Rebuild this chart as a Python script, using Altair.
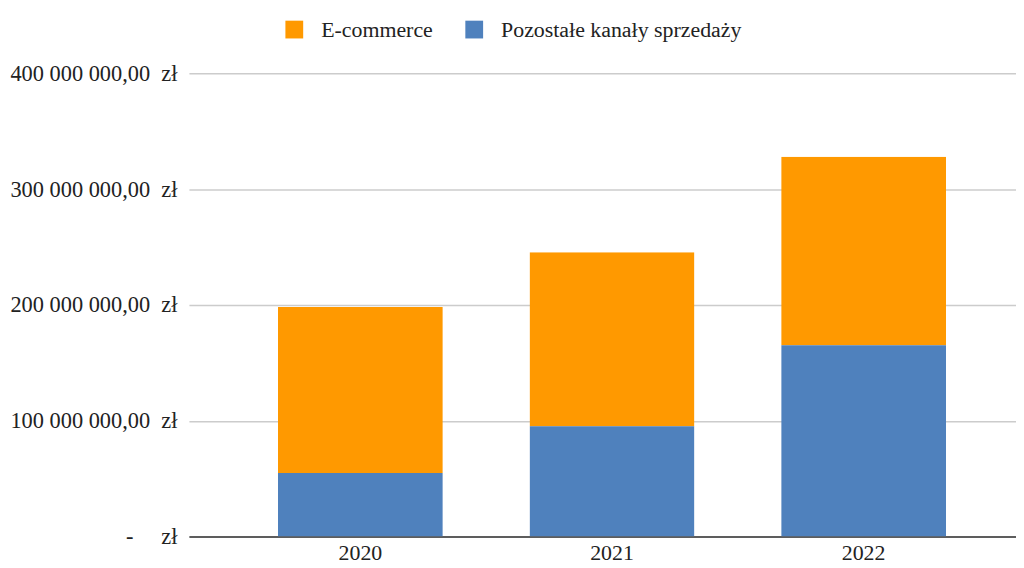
import altair as alt
import pandas as pd

years = ["2020", "2021", "2022"]
ecommerce = [143_400_000, 150_200_000, 162_800_000]
pozostale = [54_900_000, 95_300_000, 165_100_000]
series = ["E-commerce", "Pozostałe kanały sprzedaży"]
colors = ["#ff9900", "#4f81bd"]

rows = []
for i, y in enumerate(years):
    rows.append({"year": y, "series": series[0], "value": ecommerce[i], "ord": 1})
    rows.append({"year": y, "series": series[1], "value": pozostale[i], "ord": 0})
df = pd.DataFrame(rows)

NB = "\u00a0"
label_expr = (
    f"datum.value == 0 ? '-{NB*5}zł' : "
    f"format(datum.value / 1000000, '.0f') + ' 000 000,00{NB}{NB}zł'"
)

chart = alt.Chart(df).mark_bar(
    cornerRadiusTopLeft={"expr": "datum.series == 'E-commerce' ? 3 : 0"},
    cornerRadiusTopRight={"expr": "datum.series == 'E-commerce' ? 3 : 0"},
).encode(
    x=alt.X("year:N", title=None,
            scale=alt.Scale(paddingInner=0.345, paddingOuter=0.316, align=0.56),
            axis=alt.Axis(labelAngle=0, ticks=False, domainColor="#333333",
                          domainWidth=1.5, labelPadding=6, grid=False,
                          labelFontSize=22)),
    y=alt.Y("value:Q", title=None, stack="zero",
            scale=alt.Scale(domain=[0, 400_000_000], nice=False),
            axis=alt.Axis(values=[0, 100_000_000, 200_000_000, 300_000_000, 400_000_000],
                          labelExpr=label_expr, ticks=False, domain=False,
                          gridColor="#cccccc", gridWidth=1.5, labelPadding=12,
                          labelFontSize=22.5)),
    color=alt.Color("series:N", title=None,
                    scale=alt.Scale(domain=series, range=colors),
                    legend=alt.Legend(orient="none", legendX=95, legendY=-55,
                                      direction="horizontal", symbolType="square",
                                      symbolSize=320, symbolStrokeWidth=0,
                                      labelFontSize=22, labelOffset=16,
                                      columnPadding=30, labelLimit=500,
                                      labelFont="Liberation Serif",
                                      labelColor="#222222")),
    order=alt.Order("ord:Q", sort="ascending"),
).properties(
    width=832,
    height=466,
    autosize=alt.AutoSizeParams(type="none"),
    padding={"left": 182, "top": 64, "right": 0, "bottom": 40},
).configure_view(
    stroke=None
).configure_axis(
    labelFont="Liberation Serif",
    labelColor="#222222",
)

chart.save("out.html", embed_options={"renderer": "svg", "actions": False})
